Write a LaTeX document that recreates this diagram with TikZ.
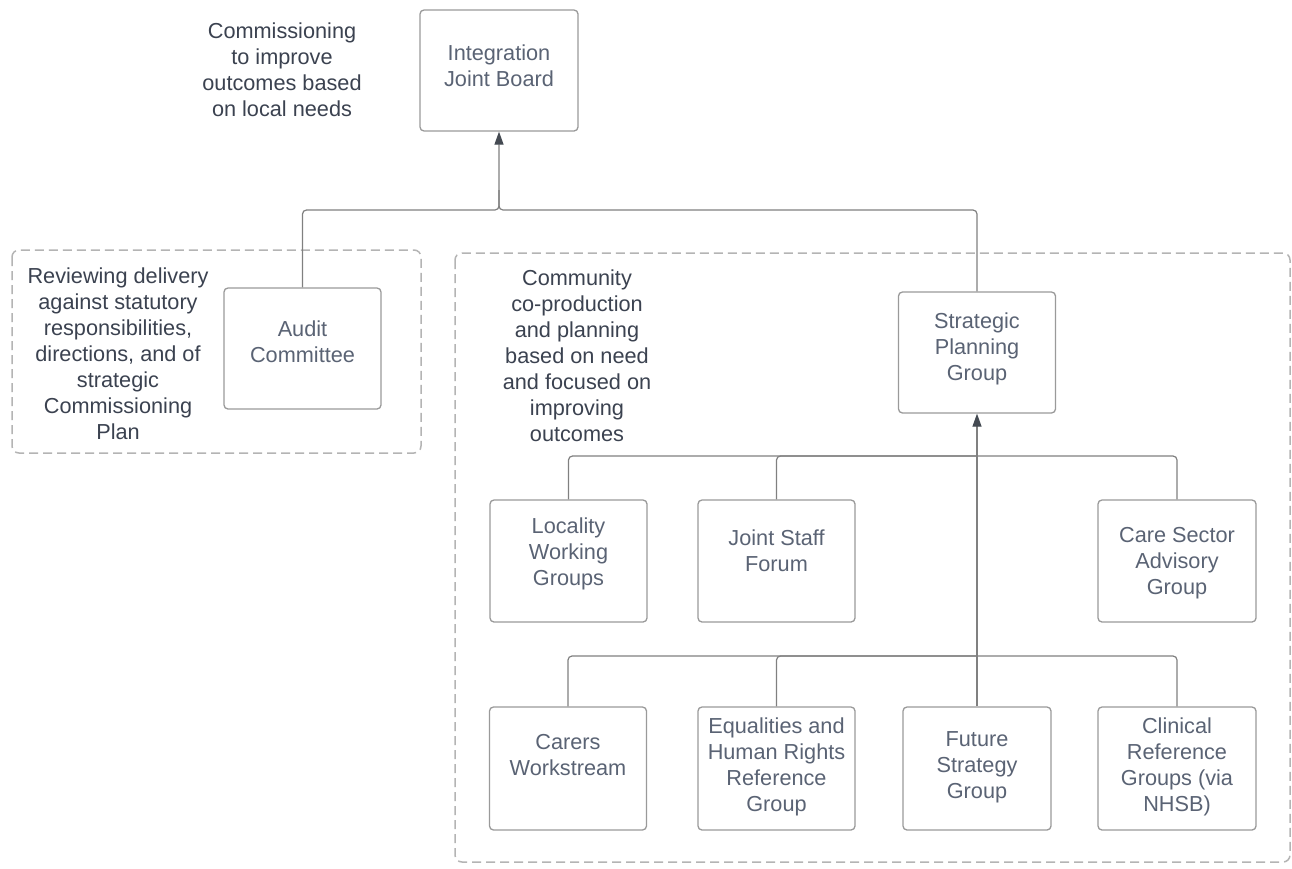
\documentclass[tikz,border=0pt]{standalone}
\usepackage{fontspec}
\setmainfont{Liberation Sans}
\usetikzlibrary{arrows.meta,calc}
\definecolor{boxline}{HTML}{9A9A9A}
\definecolor{conn}{HTML}{808080}
\definecolor{arrc}{HTML}{444A52}
\definecolor{dashc}{HTML}{B4B4B4}
\definecolor{boxtext}{HTML}{5A6374}
\definecolor{labtext}{HTML}{3B4250}
\begin{document}
\begin{tikzpicture}[x=1pt,y=-1pt,
  orgbox/.style={draw=boxline,line width=1.3pt,rounded corners=4pt,fill=white,inner sep=0pt},
  boxlbl/.style={text=boxtext,align=center,font=\fontsize{21.7}{26}\selectfont,inner sep=0pt},
  note/.style={text=labtext,align=center,font=\fontsize{21.7}{26}\selectfont,inner sep=0pt},
  grp/.style={draw=dashc,line width=1.5pt,dash pattern=on 9pt off 5pt,rounded corners=7pt},
  link/.style={draw=conn,line width=1.2pt,rounded corners=4pt},
  arr/.style={-{Triangle[length=13pt,width=9pt,color=arrc]}}
]
\useasboundingbox[fill=white] (0,0) rectangle (1292,868);

% dashed groups
\draw[grp] (12,250) rectangle (421,453);
\draw[grp] (455,253) rectangle (1290,862);

% boxes
\node[orgbox,minimum width=158pt,minimum height=121pt] (ijb) at (499,70.5) {};
\node[orgbox,minimum width=157pt,minimum height=121pt] (aud) at (302.5,348.5) {};
\node[orgbox,minimum width=157pt,minimum height=121pt] (spg) at (977,352.5) {};
\node[orgbox,minimum width=157pt,minimum height=122pt] (loc) at (568.5,561) {};
\node[orgbox,minimum width=157pt,minimum height=122pt] (jsf) at (776.5,561) {};
\node[orgbox,minimum width=158pt,minimum height=122pt] (csa) at (1177,561) {};
\node[orgbox,minimum width=157pt,minimum height=123pt] (car) at (568,768.5) {};
\node[orgbox,minimum width=157pt,minimum height=123pt] (eqh) at (776.5,768.5) {};
\node[orgbox,minimum width=148pt,minimum height=123pt] (fut) at (977,768.5) {};
\node[orgbox,minimum width=158pt,minimum height=123pt] (cli) at (1177,768.5) {};

% box texts
\node[boxlbl] (ijbt) at (499,66) {Integration\\Joint Board};
\node[boxlbl] (audt) at (302.5,342) {Audit\\Committee};
\node[boxlbl] (spgt) at (977,348.5) {Strategic\\Planning\\Group};
\node[boxlbl] (loct) at (568.5,554) {Locality\\Working\\Groups};
\node[boxlbl] (jsft) at (776.5,550.5) {Joint Staff\\Forum};
\node[boxlbl] (csat) at (1177,563) {Care Sector\\Advisory\\Group};
\node[boxlbl] (cart) at (568,755) {Carers\\Workstream};
\node[boxlbl] (eqht) at (776.5,767) {Equalities and\\Human Rights\\Reference\\Group};
\node[boxlbl] (futt) at (977,767) {Future\\Strategy\\Group};
\node[boxlbl] (clit) at (1177,767) {Clinical\\Reference\\Groups (via\\NHSB)};

% notes
\node[note] (n1) at (282,70) {Commissioning\\to improve\\outcomes based\\on local needs};
\node[note] (n2) at (118,353.5) {Reviewing delivery\\against statutory\\responsibilities,\\directions, and of\\strategic\\Commissioning\\Plan};
\node[note] (n3) at (577,355.5) {Community\\co-production\\and planning\\based on need\\and focused on\\improving\\outcomes};

% junction coordinates
\coordinate (hub) at (499,210);
\coordinate (bus1) at (977,456);
\coordinate (bus2) at (977,656);

% connectors
\draw[link,arr] (aud.north) |- (hub) -- (ijb.south);
\draw[link] (spg.north) |- (hub) -- ($(hub)+(0,-20)$);
\draw[link] (loc.north) |- (bus1);
\draw[link] (jsf.north) |- (bus1);
\draw[link] (csa.north) |- (bus1);
\draw[link] (car.north) |- (bus2);
\draw[link] (eqh.north) |- (bus2);
\draw[link] (cli.north) |- (bus2);
\draw[link,arr] (fut.north) -- (spg.south);
\end{tikzpicture}
\end{document}
